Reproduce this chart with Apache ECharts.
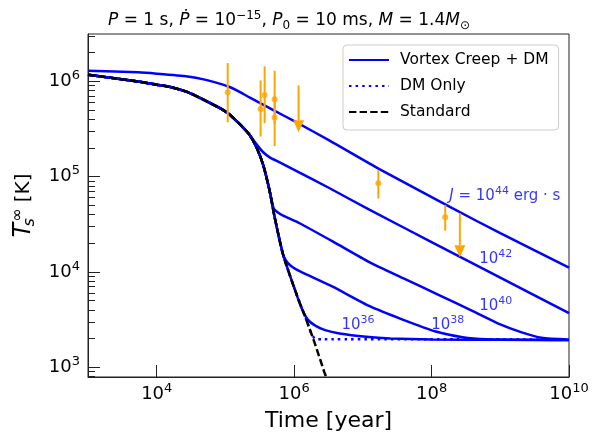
<!DOCTYPE html>
<html><head><meta charset="utf-8">
<script src="https://cdn.jsdelivr.net/npm/echarts@6/dist/echarts.min.js"></script>
<style>html,body{margin:0;padding:0;background:#fff}#c{width:593px;height:446px}</style>
</head><body><div id="c"></div>
<script>
// ---- data (time in years, temperature in K) ----
const standard = [[1e3,1.17e6],[5.37e3,9.93e5],[1e4,9.2e5],[1.58e4,8.71e5],[2.82e4,7.69e5],[5.01e4,6.31e5],[8.71e4,5.13e5],[1.15e5,4.47e5],[1.51e5,3.72e5],[1.78e5,3.31e5],[2.24e5,2.75e5],[2.82e5,2.04e5],[3.55e5,1.32e5],[4.37e5,7.24e4],[5.25e5,3.63e4],[6.92e5,1.51e4],[1.07e6,5.97e3],[1.51e6,3.13e3],[2.0e6,1.78e3],[2.75e6,891],[3.16e6,676]];
const dmOnly = standard.slice(0,18).concat([[1.74e6,2.34e3],[2.0e6,2.0e3],[2.51e6,1.97e3],[1e8,1.965e3],[1e10,1.96e3]]);
const creep44 = [[1e3,1.29e6],[5.37e3,1.24e6],[1e4,1.20e6],[2.82e4,1.12e6],[5.01e4,1.04e6],[8.71e4,9.33e5],[1.15e5,8.71e5],[1.51e5,7.94e5],[2.24e5,6.76e5],[4.90e5,5.01e5],[1.07e6,3.72e5],[3.24e6,2.40e5],[1.74e7,1.20e5],[2.0e8,4.66e4],[1e9,2.55e4],[1e10,1.11e4]];
const creep42 = standard.slice(0,11).concat([[2.82e5,2.19e5],[3.55e5,1.80e5],[4.47e5,1.58e5],[6.17e5,1.41e5],[1.07e6,1.15e5],[3.24e6,7.59e4],[1.26e7,4.47e4],[1e8,2.06e4],[1e9,8.71e3],[1e10,3.69e3]]);
const creep40 = standard.slice(0,14).concat([[5.01e5,4.68e4],[5.62e5,4.27e4],[6.92e5,3.89e4],[1.20e6,3.24e4],[3.63e6,2.09e4],[1.26e7,1.26e4],[3.98e7,8.51e3],[1.26e8,5.75e3],[3.98e8,3.89e3],[1e9,2.82e3],[2e9,2.34e3],[3.98e9,2.04e3],[1e10,1.95e3]]);
const creep38 = standard.slice(0,16).concat([[7.94e5,1.26e4],[9.55e5,1.12e4],[1.20e6,1.02e4],[3.63e6,7.01e3],[1.26e7,4.37e3],[3.80e7,3.16e3],[1.15e8,2.37e3],[2.82e8,2.07e3],[6.31e8,1.97e3],[3.16e9,1.94e3],[1e10,1.93e3]]);
const creep36 = standard.slice(0,17).concat([[1.32e6,3.98e3],[1.58e6,3.16e3],[2.0e6,2.75e3],[2.82e6,2.45e3],[4.57e6,2.26e3],[1.12e7,2.09e3],[2.51e7,2.01e3],[1e8,1.96e3],[1e9,1.94e3],[1e10,1.93e3]]);
const creepCurves = [creep44, creep42, creep40, creep38, creep36];
// observations: [time, T, lower, upper]
const obsPoints = [[1.08e5,7.69e5,3.72e5,1.55e6],[3.25e5,5.13e5,2.63e5,1.02e6],[3.72e5,7.19e5,3.63e5,1.43e6],[5.20e5,6.46e5,3.55e5,1.29e6],[5.20e5,4.17e5,2.09e5,7.08e5],[1.68e7,8.51e4,5.89e4,1.17e5],[1.58e8,3.75e4,2.71e4,5.05e4]];
// upper limits: [time, start, arrow tip]
const upperLimits = [[1.16e6,9.04e5,2.92e5],[2.58e8,4.13e4,1.43e4]];
// curve labels: exponent of J and anchor (time, T)
const labelExps = ['44','42','40','38','36'];
const labelAnchors = [[1.81e8,6.27e4],[4.93e8,1.37e4],[4.93e8,4.40e3],[9.9e7,2.78e3],[4.89e6,2.78e3]];
const xTicks = [1e4,1e6,1e8,1e10];
const yTicks = [1e3,1e4,1e5,1e6];
const yMinorTicks = [800,900,2e3,3e3,4e3,5e3,6e3,7e3,8e3,9e3,2e4,3e4,4e4,5e4,6e4,7e4,8e4,9e4,2e5,3e5,4e5,5e5,6e5,7e5,8e5,9e5,2e6,3e6];

// ---- styles ----
const FONT = 'DejaVu Sans';
const BLUE = '#0000ff';
const ORANGE = '#ffa500';
const AX = '#222';
const SMOOTH = 0.2;
const powFmt = v => '{b|10}{s|' + Math.round(Math.log10(v)) + '}';
const tickRich = {
  b: {fontFamily: FONT, fontSize: 18, lineHeight: 24, color: '#000'},
  s: {fontFamily: FONT, fontSize: 13, lineHeight: 14, verticalAlign: 'top', color: '#000'}
};

const series = [];
creepCurves.forEach(d => series.push({
  type: 'line', name: 'Vortex Creep + DM', data: d, showSymbol: false, symbol: 'none', smooth: SMOOTH,
  lineStyle: {color: BLUE, width: 2.5}, itemStyle: {color: BLUE}, z: 2
}));
series.push({type: 'line', name: 'DM Only', data: dmOnly, symbol: 'none', smooth: SMOOTH,
  lineStyle: {color: BLUE, width: 2.5, type: [2.5, 4.1]}, itemStyle: {color: BLUE}, z: 3});
series.push({type: 'line', name: 'Standard', data: standard, symbol: 'none', smooth: SMOOTH,
  lineStyle: {color: '#000', width: 2.5, type: [7.4, 3.2]}, itemStyle: {color: '#000'}, z: 4});
series.push({type: 'custom', name: 'errbars', data: obsPoints.map(p => [p[0], p[2], p[3]]),
  encode: {x: 0, y: [1, 2]}, z: 5,
  renderItem: (params, api) => {
    const a = api.coord([api.value(0), api.value(1)]);
    const b = api.coord([api.value(0), api.value(2)]);
    return {type: 'line', shape: {x1: a[0], y1: a[1], x2: b[0], y2: b[1]}, style: {stroke: ORANGE, lineWidth: 2}};
  }});
series.push({type: 'scatter', name: 'obs', data: obsPoints.map(p => [p[0], p[1]]), symbolSize: 6,
  itemStyle: {color: ORANGE}, z: 6});
series.push({type: 'custom', name: 'uplims', data: upperLimits, encode: {x: 0, y: [1, 2]}, z: 6,
  renderItem: (params, api) => {
    const a = api.coord([api.value(0), api.value(1)]);
    const b = api.coord([api.value(0), api.value(2)]);
    const h = 12, w = 5.5;
    return {type: 'group', children: [
      {type: 'line', shape: {x1: a[0], y1: a[1], x2: b[0], y2: b[1] - h}, style: {stroke: ORANGE, lineWidth: 2}},
      {type: 'polygon', shape: {points: [[b[0] - w, b[1] - h], [b[0] + w, b[1] - h], [b[0], b[1]]]}, style: {fill: ORANGE}}
    ]};
  }});
series.push({type: 'scatter', name: 'labels', z: 7, symbolSize: 1, itemStyle: {color: 'transparent'},
  data: labelAnchors.map((p, i) => ({value: p, name: (i === 0 ? '{i|J} = ' : '') + '10{s|' + labelExps[i] + '}' + (i === 0 ? ' erg · s' : '')})),
  label: {show: true, position: 'inside', align: 'left', verticalAlign: 'middle', formatter: p => p.name,
    color: BLUE, fontFamily: FONT, fontSize: 15, lineHeight: 20,
    rich: {i: {fontStyle: 'italic', fontFamily: FONT, fontSize: 15, lineHeight: 20, color: BLUE},
           s: {fontFamily: FONT, fontSize: 11, lineHeight: 12, verticalAlign: 'top', color: BLUE}}}});

const option = {
  animation: false,
  backgroundColor: '#fff',
  title: {
    text: '{i|P} = 1 s, {i|Ṗ} = 10{sup|−15}, {i|P}{sub|0} = 10 ms, {i|M} = 1.4{i|M}{sub|⊙}',
    left: 108, top: 10, padding: 0,
    textStyle: {fontFamily: FONT, fontSize: 17, fontWeight: 'normal', color: '#000', lineHeight: 22,
      rich: {
        i: {fontFamily: FONT, fontStyle: 'italic', fontSize: 17, lineHeight: 22, color: '#000'},
        sup: {fontFamily: FONT, fontSize: 12, lineHeight: 13, verticalAlign: 'top', color: '#000'},
        sub: {fontFamily: FONT, fontSize: 12, lineHeight: 13, verticalAlign: 'bottom', color: '#000'}
      }}
  },
  grid: {left: 88, top: 34, width: 481, height: 343, show: true, borderColor: AX, borderWidth: 1, backgroundColor: 'transparent'},
  legend: {
    data: ['Vortex Creep + DM', 'DM Only', 'Standard'], orient: 'vertical', left: 343, top: 45,
    padding: [7, 10, 10, 5], itemWidth: 40, itemHeight: 16, itemGap: 10, selectedMode: false,
    backgroundColor: '#fff', borderColor: '#cccccc', borderWidth: 1, borderRadius: 4,
    itemStyle: {color: 'transparent', borderColor: 'transparent', borderWidth: 0, opacity: 0},
    textStyle: {fontFamily: FONT, fontSize: 15.5, color: '#000', padding: [0, 0, 0, 6]}
  },
  xAxis: {
    type: 'log', logBase: 10, min: 1e3, max: 1e10,
    name: 'Time [year]', nameLocation: 'middle', nameGap: 33,
    nameTextStyle: {fontFamily: FONT, fontSize: 22, color: '#000'},
    axisLine: {show: true, lineStyle: {color: AX, width: 1}},
    axisTick: {show: true, inside: true, length: 12, customValues: xTicks, lineStyle: {color: AX, width: 1}},
    axisLabel: {customValues: xTicks, formatter: powFmt, rich: tickRich, margin: 5},
    splitLine: {show: false}, minorTick: {show: false}
  },
  yAxis: [{
    type: 'log', logBase: 10, min: 791, max: 3.13e6, position: 'left',
    name: '{t|T}{sub|s}{sup|∞} [K]', nameLocation: 'middle', nameGap: 50, nameRotate: 90,
    nameTextStyle: {fontFamily: FONT, fontSize: 20, color: '#000', lineHeight: 28,
      rich: {t: {fontFamily: FONT, fontStyle: 'italic', fontSize: 24, lineHeight: 28, color: '#000'},
             sub: {fontFamily: FONT, fontStyle: 'italic', fontSize: 16, lineHeight: 16, verticalAlign: 'bottom', width: 1, color: '#000'},
             sup: {fontFamily: FONT, fontSize: 16, lineHeight: 16, verticalAlign: 'top', color: '#000'}}},
    axisLine: {show: true, lineStyle: {color: AX, width: 1}},
    axisTick: {show: true, inside: true, length: 12, customValues: yTicks, lineStyle: {color: AX, width: 1}},
    axisLabel: {customValues: yTicks, formatter: powFmt, rich: tickRich, margin: 8},
    splitLine: {show: false}
  }, {
    type: 'log', logBase: 10, min: 791, max: 3.13e6, position: 'left', offset: 0,
    axisLine: {show: false}, axisLabel: {show: false}, splitLine: {show: false},
    axisTick: {show: true, inside: true, length: 7, customValues: yMinorTicks, lineStyle: {color: AX, width: 1}}
  }],
  series: series
};
const chart = echarts.init(document.getElementById('c'), null, {renderer: 'canvas'});
chart.setOption(option);
</script></body></html>
